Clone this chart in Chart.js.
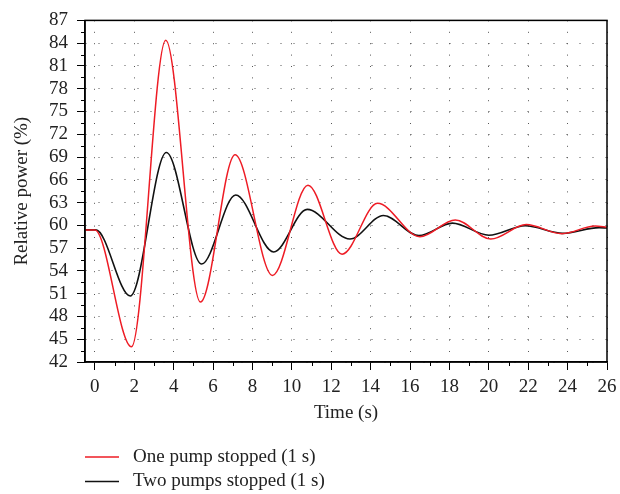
<!DOCTYPE html>
<html>
<head>
<meta charset="utf-8">
<script src="https://cdn.jsdelivr.net/npm/chart.js@4"></script>
<style>
  html, body { margin: 0; padding: 0; background: #fff; }
  #wrap { width: 620px; height: 494px; }
</style>
</head>
<body>
<div id="wrap"><canvas id="powerChart" width="620" height="494"></canvas></div>
<script>
// Values (time in s, relative power in %)
const seriesLabels = ['One pump stopped (1 s)', 'Two pumps stopped (1 s)'];

const onePumpTime  = [-0.5, 0, 1.86, 3.6, 5.36, 7.12, 9.02, 10.82, 12.55, 14.35, 16.5, 18.3, 20.1, 21.9, 23.7, 25.4, 26];
const onePumpPower = [59.4, 59.4, 44.0, 84.4, 49.9, 69.3, 53.4, 65.3, 56.2, 62.9, 58.5, 60.7, 58.2, 60.1, 58.9, 59.9, 59.75];

const twoPumpTime  = [-0.5, 0.05, 1.8, 3.63, 5.42, 7.15, 9.08, 10.78, 12.95, 14.65, 16.45, 18.15, 20.0, 21.85, 23.75, 25.6, 26];
const twoPumpPower = [59.4, 59.4, 50.7, 69.6, 54.9, 64.0, 56.5, 62.1, 58.2, 61.3, 58.65, 60.3, 58.7, 59.95, 58.95, 59.7, 59.65];

const xTicks = { min: -0.5, max: 26, step: 1, labelEvery: 2 };
const yTicks = { min: 42, max: 87, step: 1.5, labelEvery: 3 };

const colors = {
    red: '#ee1c25',
    black: '#111111',
    text: '#222222',
    grid: '#555555'
};

Chart.defaults.font.family = '"Liberation Serif", "Times New Roman", serif';
Chart.defaults.font.size = 19;
Chart.defaults.color = colors.text;

function toPoints(xs, ys) {
    return xs.map((x, i) => ({ x: x, y: ys[i] }));
}

function isMultiple(v, m) {
    return Math.abs(v / m - Math.round(v / m)) < 1e-6;
}

const isXMajor = v => isMultiple(v, xTicks.labelEvery);
const isYMajor = v => isMultiple(v, yTicks.labelEvery);

// Box around the plot, short minor ticks, and the legend under the axis title
const frameAndLegend = {
    id: 'frameAndLegend',
    afterDraw(chart) {
        const { ctx, chartArea: a } = chart;
        const xs = chart.scales.x, ys = chart.scales.y;
        ctx.save();
        ctx.strokeStyle = '#000';
        ctx.lineWidth = 1;
        ctx.beginPath();
        xs.ticks.forEach(t => {
            if (!isXMajor(t.value) && isMultiple(t.value, xTicks.step)) {
                const px = Math.round(xs.getPixelForValue(t.value)) + 0.5;
                ctx.moveTo(px, a.bottom);
                ctx.lineTo(px, a.bottom + 4);
            }
        });
        ys.ticks.forEach(t => {
            if (!isYMajor(t.value)) {
                const py = Math.round(ys.getPixelForValue(t.value)) + 0.5;
                ctx.moveTo(a.left, py);
                ctx.lineTo(a.left - 4, py);
            }
        });
        ctx.stroke();

        ctx.lineWidth = 1.5;
        ctx.strokeRect(a.left, a.top, a.right - a.left, a.bottom - a.top);

        ctx.font = '19px "Liberation Serif", "Times New Roman", serif';
        ctx.textBaseline = 'middle';
        ctx.textAlign = 'left';
        chart.data.datasets.forEach((ds, i) => {
            const y = 457 + i * 24.5;
            ctx.strokeStyle = ds.borderColor;
            ctx.lineWidth = 1.5;
            ctx.beginPath();
            ctx.moveTo(85, y);
            ctx.lineTo(119, y);
            ctx.stroke();
            ctx.fillStyle = colors.text;
            ctx.fillText(ds.label, 133, y);
        });
        ctx.restore();
    }
};

const ctx = document.getElementById('powerChart').getContext('2d');

new Chart(ctx, {
    type: 'line',
    data: {
        datasets: [{
            label: seriesLabels[0],
            data: toPoints(onePumpTime, onePumpPower),
            borderColor: colors.red,
            borderWidth: 1.5,
            pointRadius: 0,
            cubicInterpolationMode: 'monotone',
            fill: false
        }, {
            label: seriesLabels[1],
            data: toPoints(twoPumpTime, twoPumpPower),
            borderColor: colors.black,
            borderWidth: 1.6,
            pointRadius: 0,
            cubicInterpolationMode: 'monotone',
            fill: false
        }]
    },
    options: {
        responsive: false,
        animation: false,
        devicePixelRatio: 1,
        layout: {
            padding: { top: 19, right: 13, bottom: 70, left: 0 }
        },
        plugins: {
            legend: { display: false },
            tooltip: { enabled: false }
        },
        scales: {
            x: {
                type: 'linear',
                min: xTicks.min,
                max: xTicks.max,
                afterFit(scale) {
                    scale.height = 62;
                    scale.paddingLeft = 0;
                    scale.paddingRight = 0;
                },
                ticks: {
                    stepSize: xTicks.step,
                    includeBounds: false,
                    autoSkip: false,
                    maxRotation: 0,
                    padding: 6,
                    callback: v => isXMajor(v) ? String(Math.round(v)) : ''
                },
                grid: {
                    color: c => (c.tick && isXMajor(c.tick.value)) ? colors.grid : 'rgba(0,0,0,0)',
                    tickColor: c => (c.tick && isXMajor(c.tick.value)) ? '#000' : 'rgba(0,0,0,0)',
                    tickLength: 8,
                    lineWidth: 1
                },
                border: { color: '#000', width: 1.5, dash: [1, 10.4] },
                title: {
                    display: true,
                    text: 'Time (s)',
                    padding: { top: 0, bottom: 0 }
                }
            },
            y: {
                min: yTicks.min,
                max: yTicks.max,
                afterFit(scale) { scale.width = 85; },
                ticks: {
                    stepSize: yTicks.step,
                    autoSkip: false,
                    padding: 9,
                    callback: v => isYMajor(v) ? String(Math.round(v)) : ''
                },
                grid: {
                    color: c => (c.tick && isYMajor(c.tick.value)) ? colors.grid : 'rgba(0,0,0,0)',
                    tickColor: c => (c.tick && isYMajor(c.tick.value)) ? '#000' : 'rgba(0,0,0,0)',
                    tickLength: 8,
                    lineWidth: 1
                },
                border: { color: '#000', width: 1.5, dash: [1, 12] },
                title: {
                    display: true,
                    text: 'Relative power (%)',
                    padding: { top: 11, bottom: 0 }
                }
            }
        }
    },
    plugins: [frameAndLegend]
});
</script>
</body>
</html>
